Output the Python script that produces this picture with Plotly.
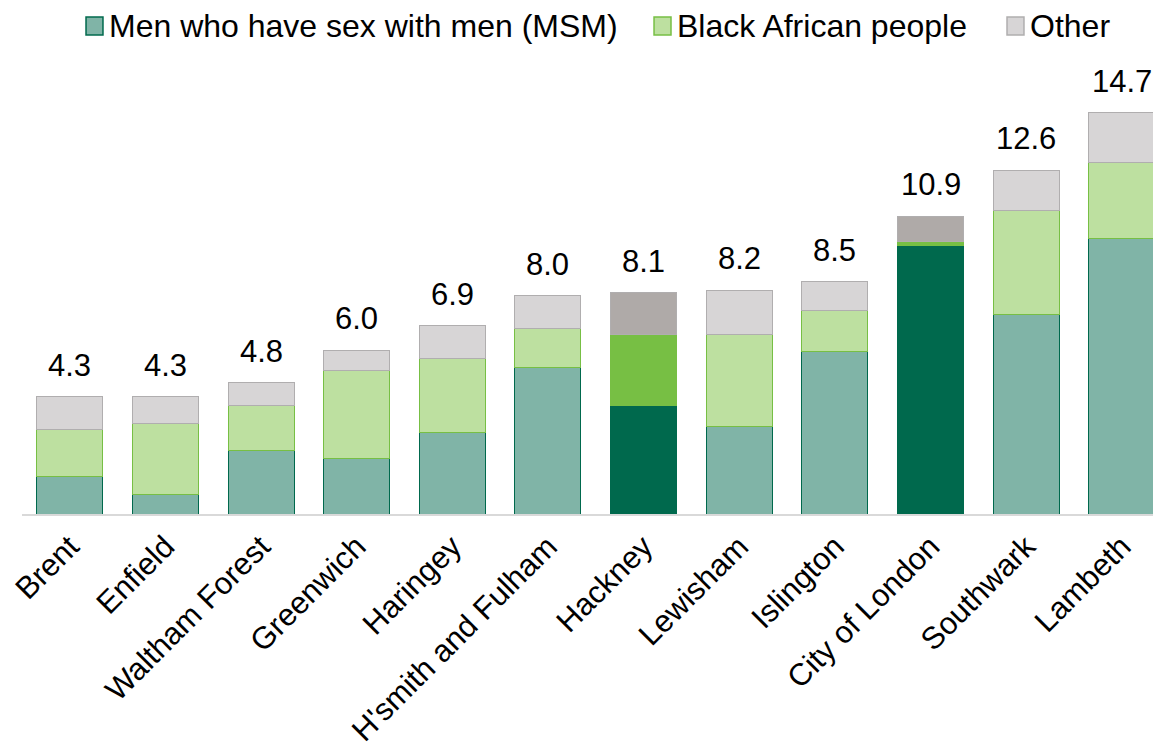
import plotly.graph_objects as go

boroughs = ["Brent", "Enfield", "Waltham Forest", "Greenwich", "Haringey",
            "H'smith and Fulham", "Hackney", "Lewisham", "Islington",
            "City of London", "Southwark", "Lambeth"]
msm = [1.39, 0.73, 2.31, 2.05, 3.0, 5.35, 3.99, 3.19, 5.97, 9.82, 7.29, 10.11]
black_african = [1.72, 2.57, 1.65, 3.22, 2.71, 1.43, 2.57, 3.4, 1.47, 0.18, 3.81, 2.78]
other = [1.19, 1.0, 0.84, 0.73, 1.19, 1.22, 1.54, 1.61, 1.06, 0.9, 1.5, 1.81]
totals = [4.3, 4.3, 4.8, 6.0, 6.9, 8.0, 8.1, 8.2, 8.5, 10.9, 12.6, 14.7]
highlight = ["Hackney", "City of London"]

# (nom, valeurs, couleur normale, couleur mise en évidence, bordure)
series = [
    ("Men who have sex with men (MSM)", msm, "#80B4A7", "#00694D", "#00694D"),
    ("Black African people", black_african, "#BDE0A0", "#77BF44", "#77BF44"),
    ("Other", other, "#D7D5D6", "#AFAAA8", "#B0AEAF"),
]

fig = go.Figure()
for name, vals, normal, strong, edge in series:
    fig.add_trace(go.Bar(
        x=boroughs, y=vals, name=name, showlegend=False,
        marker=dict(color=[strong if b in highlight else normal for b in boroughs],
                    line=dict(color=edge, width=1)),
    ))

# totaux au-dessus des barres
for b, t in zip(boroughs, totals):
    fig.add_annotation(x=b, y=t, text=f"{t:.1f}", showarrow=False,
                       yanchor="bottom", yshift=12,
                       font=dict(size=31, color="#000000"))

# légende dessinée à la main (la légende plotly ne monte pas assez haut)
legend_x = [0.0562, 0.5549, 0.8648]
for (name, vals, normal, strong, edge), lx in zip(series, legend_x):
    fig.add_shape(type="rect", xref="paper", yref="paper",
                  x0=lx, x1=lx + 0.0149, y0=1.0551, y1=1.0947,
                  fillcolor=normal, line=dict(color=edge, width=1.5))
    fig.add_annotation(xref="paper", yref="paper", x=lx + 0.0195, y=1.0749,
                       text=name, showarrow=False, xanchor="left", yanchor="middle",
                       borderpad=0, font=dict(size=32, color="#000000"))

# la page a une marge de 8 px : on compense dans la taille et les marges
fig.update_layout(
    barmode="stack",
    bargap=0.31,
    width=1153, height=745,
    margin=dict(l=14, r=0, t=52, b=239),
    plot_bgcolor="white", paper_bgcolor="white",
    font=dict(family="Liberation Sans, Arial, sans-serif", size=31, color="#000000"),
    showlegend=False,
)
fig.update_xaxes(tickangle=-45, showline=True, linecolor="#D9D9D9", linewidth=2,
                 ticks="", tickfont=dict(size=31), automargin=False,
                 range=[-0.5, 11.41])
fig.update_yaxes(range=[0, 16.63], visible=False, showgrid=False)

fig.write_html("out.html")
